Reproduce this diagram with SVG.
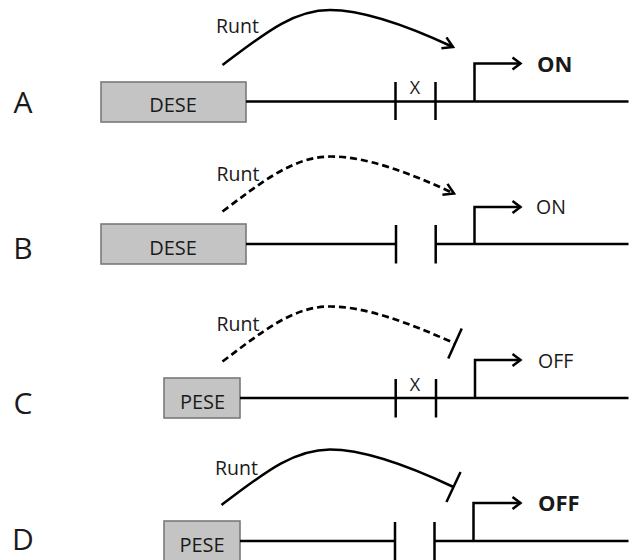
<svg xmlns="http://www.w3.org/2000/svg" width="637" height="560" viewBox="0 0 637 560">
  <style>
    text { font-family: "Open Sans", "Liberation Sans", sans-serif; fill: #1a1a1a; }
    .row { font-size: 30px; text-anchor: middle; }
    .box { fill: #c4c4c4; stroke: #7a7a7a; stroke-width: 1.6; }
    .boxtxt { font-size: 20px; text-anchor: middle; }
    .runt { font-size: 19.5px; }
    .x { font-size: 18px; text-anchor: middle; }
    .state { font-size: 19.5px; }
    .bold { font-size: 22px; font-weight: bold; }
    .dna { stroke: #000; stroke-width: 2.5; fill: none; }
    .tick { stroke: #000; stroke-width: 2.5; }
    .prom { stroke: #000; stroke-width: 2.5; fill: none; marker-end: url(#open-arrow); }
    .act { stroke: #000; stroke-width: 2.5; fill: none; marker-end: url(#curve-arrow); }
    .rep { stroke: #000; stroke-width: 2.5; fill: none; marker-end: url(#tbar); }
    .dash { stroke-dasharray: 7 4; stroke-width: 2.7; }
  </style>
  <defs>
    <marker id="open-arrow" markerUnits="userSpaceOnUse" markerWidth="20" markerHeight="20" viewBox="-10 -10 20 20" refX="0" refY="0" orient="auto">
      <path d="M-8,-6 L0,0 L-8,6" fill="none" stroke="#000" stroke-width="2.5"/>
    </marker>
    <marker id="curve-arrow" markerUnits="userSpaceOnUse" markerWidth="24" markerHeight="24" viewBox="-12 -12 24 24" refX="0" refY="0" orient="auto">
      <path d="M-10,-6 L0,0 L-10,6" fill="none" stroke="#000" stroke-width="2.5"/>
    </marker>
    <marker id="tbar" markerUnits="userSpaceOnUse" markerWidth="40" markerHeight="40" viewBox="-20 -20 40 40" refX="0" refY="0" orient="auto">
      <path d="M0,-16.5 L0,16.5" fill="none" stroke="#000" stroke-width="2.5"/>
    </marker>
  </defs>

  <!-- row labels -->
  <g id="labels">
    <text class="row" x="23" y="112.5">A</text>
    <text class="row" x="23" y="258.5">B</text>
    <text class="row" x="23" y="413.5">C</text>
    <text class="row" x="23" y="550">D</text>
  </g>

  <!-- element boxes -->
  <g id="dese-a">
    <rect class="box" x="101" y="82" width="145" height="40"/>
    <text class="boxtxt" x="173" y="112">DESE</text>
  </g>
  <g id="dese-b">
    <rect class="box" x="101" y="224" width="145" height="40"/>
    <text class="boxtxt" x="173" y="255">DESE</text>
  </g>
  <g id="pese-c">
    <rect class="box" x="164" y="378" width="76" height="40"/>
    <text class="boxtxt" x="202.5" y="408.5">PESE</text>
  </g>
  <g id="pese-d">
    <rect class="box" x="164" y="521" width="76" height="40"/>
    <text class="boxtxt" x="202" y="551.5">PESE</text>
  </g>

  <!-- sites between the ticks -->
  <g id="site-a"><text class="x" x="415" y="94">X</text></g>
  <g id="site-c"><text class="x" x="415" y="391">X</text></g>

  <!-- promoter outputs -->
  <g id="out-a"><text class="bold" x="537" y="72">ON</text></g>
  <g id="out-b"><text class="state" x="536" y="214">ON</text></g>
  <g id="out-c"><text class="state" x="538" y="368">OFF</text></g>
  <g id="out-d"><text class="bold" x="538" y="511">OFF</text></g>

  <!-- Runt labels -->
  <g id="runt-labels">
    <text class="runt" x="216" y="33">Runt</text>
    <text class="runt" x="216.5" y="180.5">Runt</text>
    <text class="runt" x="216.5" y="330.5">Runt</text>
    <text class="runt" x="215" y="475">Runt</text>
  </g>

  <g id="connectors">
    <!-- DNA lines -->
    <path class="dna" d="M246,101.5 H628.5"/>
    <path class="dna" d="M246,244 H396 M435.7,244 H628.5"/>
    <path class="dna" d="M240,398 H628.5"/>
    <path class="dna" d="M240,541 H395 M434.5,541 H628.5"/>

    <!-- boundary ticks -->
    <path class="tick" d="M395.5,82 V120 M435.5,82 V120"/>
    <path class="tick" d="M396,225 V263.5 M435.7,225 V263.5"/>
    <path class="tick" d="M395.7,379 V417.5 M436,379 V417.5"/>
    <path class="tick" d="M395,522 V562 M434.5,522 V562"/>

    <!-- promoter arrows -->
    <path class="prom" d="M474.5,101.5 V63.5 H520.5"/>
    <path class="prom" d="M474.5,244 V207 H520.5"/>
    <path class="prom" d="M475,398 V360 H520.5"/>
    <path class="prom" d="M473.5,541 V503 H520.5"/>

    <!-- Runt action -->
    <path class="act" d="M222.5,65 C262,35.5 292,10 330,10 C365,10 408,26 453,47"/>
    <path class="act dash" d="M222.5,211.5 C262,182 293,156.5 331,156.5 C366,156.5 409,172.5 454,193.5"/>
    <path class="rep dash" d="M222.5,361.5 C262,332 292,306.5 330,306.5 C365,306.5 408,322.5 455,343.5"/>
    <path class="rep" d="M221.5,505 C261,475.5 292,449.5 330,449.5 C365,449.5 408,465.5 453.5,487"/>
  </g>
</svg>
